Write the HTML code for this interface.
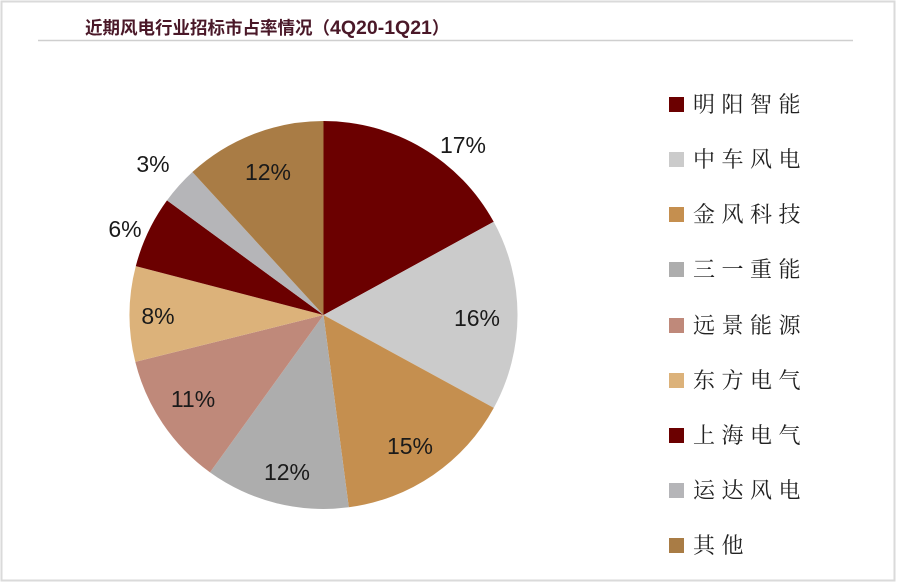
<!DOCTYPE html>
<html><head><meta charset="utf-8"><style>
html,body{margin:0;padding:0;background:#fff;}
svg{display:block;}
</style></head><body>
<svg width="900" height="584" viewBox="0 0 900 584" xmlns="http://www.w3.org/2000/svg">
<rect x="0" y="0" width="900" height="584" fill="#fff"/>
<rect x="1.5" y="1.5" width="893" height="579" fill="none" stroke="#dadada" stroke-width="2"/>
<text x="85" y="34" font-family="'Liberation Sans','Noto Sans CJK SC',sans-serif" font-size="17.5" font-weight="bold" fill="#4a1828">近期风电行业招标市占率情况（<tspan font-size="19.5">4Q20-1Q21</tspan>）</text>
<line x1="38" y1="40.5" x2="853" y2="40.5" stroke="#cfcfcf" stroke-width="1.5"/>
<g>
<path d="M323.5,315 L323.5,121 A194,194 0 0 1 493.7,221.8 Z" fill="#6b0000"/>
<path d="M323.5,315 L493.7,221.8 A194,194 0 0 1 493.8,407.9 Z" fill="#cbcbcb"/>
<path d="M323.5,315 L493.8,407.9 A194,194 0 0 1 348.8,507.3 Z" fill="#c58f4f"/>
<path d="M323.5,315 L348.8,507.3 A194,194 0 0 1 210.0,472.4 Z" fill="#adadad"/>
<path d="M323.5,315 L210.0,472.4 A194,194 0 0 1 135.3,361.9 Z" fill="#bf897a"/>
<path d="M323.5,315 L135.3,361.9 A194,194 0 0 1 135.8,266.1 Z" fill="#dcb27a"/>
<path d="M323.5,315 L135.8,266.1 A194,194 0 0 1 167.0,200.4 Z" fill="#6b0000"/>
<path d="M323.5,315 L167.0,200.4 A194,194 0 0 1 192.4,172.0 Z" fill="#b5b5b8"/>
<path d="M323.5,315 L192.4,172.0 A194,194 0 0 1 323.5,121 Z" fill="#a97c45"/>
</g>
<g font-family="'Liberation Sans',sans-serif" font-size="23" fill="#1a1a1a" text-anchor="middle">
<text x="463" y="153">17%</text>
<text x="477" y="326">16%</text>
<text x="410" y="454">15%</text>
<text x="287" y="480">12%</text>
<text x="193" y="407">11%</text>
<text x="158" y="324">8%</text>
<text x="125" y="237">6%</text>
<text x="153" y="172">3%</text>
<text x="268" y="180">12%</text>
</g>
<g>
<rect x="669" y="97" width="15" height="15" fill="#6b0000"/>
<rect x="669" y="152" width="15" height="15" fill="#cbcbcb"/>
<rect x="669" y="207" width="15" height="15" fill="#c58f4f"/>
<rect x="669" y="262" width="15" height="15" fill="#adadad"/>
<rect x="669" y="318" width="15" height="15" fill="#bf897a"/>
<rect x="669" y="373" width="15" height="15" fill="#dcb27a"/>
<rect x="669" y="428" width="15" height="15" fill="#6b0000"/>
<rect x="669" y="483" width="15" height="15" fill="#b5b5b8"/>
<rect x="669" y="538" width="15" height="15" fill="#a97c45"/>
</g>
<g font-family="'Liberation Serif','Noto Serif CJK SC',serif" font-size="22" fill="#222" letter-spacing="6.5">
<text x="693" y="112">明阳智能</text>
<text x="693" y="167">中车风电</text>
<text x="693" y="222">金风科技</text>
<text x="693" y="277">三一重能</text>
<text x="693" y="333">远景能源</text>
<text x="693" y="388">东方电气</text>
<text x="693" y="443">上海电气</text>
<text x="693" y="498">运达风电</text>
<text x="693" y="553">其他</text>
</g>
</svg>
</body></html>
